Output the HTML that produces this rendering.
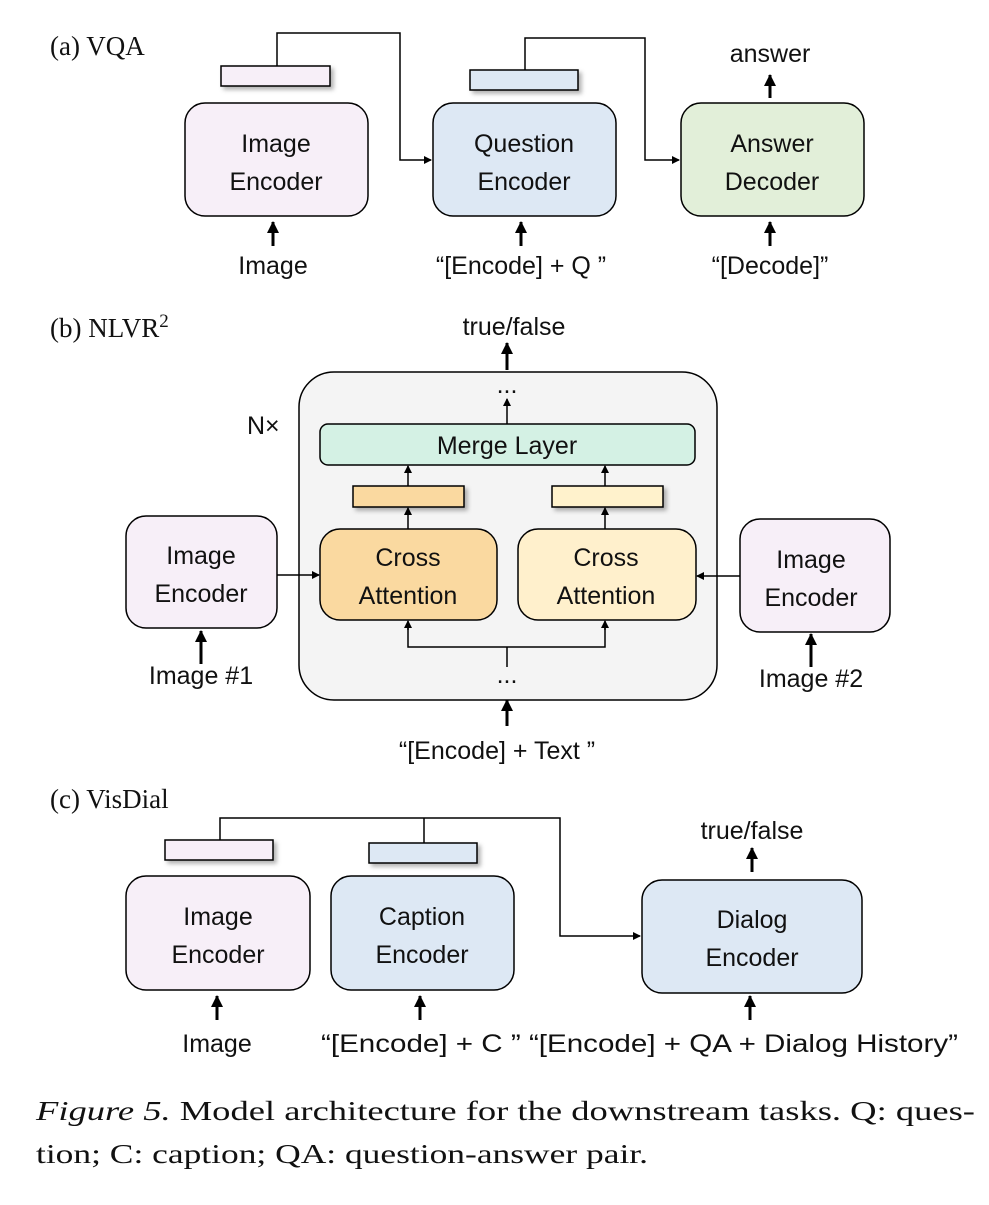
<!DOCTYPE html>
<html><head><meta charset="utf-8"><style>
html,body{margin:0;padding:0;background:#fff;}
svg{display:block;}
.s{font-family:"Liberation Sans",sans-serif;font-size:25px;fill:#111;}
.r{font-family:"Liberation Serif",serif;font-size:27px;fill:#111;}
</style></head><body>
<svg width="989" height="1205" viewBox="0 0 989 1205" xmlns="http://www.w3.org/2000/svg">
<defs>
<marker id="a" markerWidth="8" markerHeight="8" refX="7" refY="4" orient="auto" markerUnits="userSpaceOnUse"><path d="M0,0 L8,4 L0,8 Z" fill="#000"/></marker>
<marker id="b" markerWidth="12" markerHeight="12" refX="11" refY="6" orient="auto" markerUnits="userSpaceOnUse"><path d="M0,0 L12,6 L0,12 Z" fill="#000"/></marker>
<filter id="sh" x="-10%" y="-30%" width="130%" height="180%"><feDropShadow dx="3" dy="3" stdDeviation="2" flood-color="#000" flood-opacity="0.3"/></filter>
</defs>
<g stroke="#000" stroke-width="1.5" fill="none">
<polyline points="277,66 277,33 400,33 400,160 431,160" marker-end="url(#a)"/>
<polyline points="525,70 525,38 645,38 645,160 679,160" marker-end="url(#a)"/>
<rect x="221" y="66" width="109" height="20" fill="#f7eff8" filter="url(#sh)"/>
<rect x="470" y="70" width="108" height="20" fill="#dde8f4" filter="url(#sh)"/>
<rect x="185" y="103" width="183" height="113" rx="20" fill="#f7eff8"/>
<rect x="433" y="103" width="183" height="113" rx="20" fill="#dde8f4"/>
<rect x="681" y="103" width="183" height="113" rx="20" fill="#e2efd9"/>
<g stroke-width="3">
<line x1="273" y1="246" x2="273" y2="222" marker-end="url(#b)"/>
<line x1="521" y1="246" x2="521" y2="222" marker-end="url(#b)"/>
<line x1="770" y1="246" x2="770" y2="222" marker-end="url(#b)"/>
<line x1="770" y1="98" x2="770" y2="75" marker-end="url(#b)"/>
</g>
<g stroke-width="3">
<line x1="507" y1="370" x2="507" y2="343" marker-end="url(#b)"/>
<line x1="507" y1="726" x2="507" y2="700" marker-end="url(#b)"/>
<line x1="201" y1="664" x2="201" y2="631" marker-end="url(#b)"/>
<line x1="811" y1="667" x2="811" y2="634" marker-end="url(#b)"/>
</g>
<rect x="299" y="372" width="418" height="328" rx="35" fill="#f4f4f4"/>
<line x1="507" y1="424" x2="507" y2="399" marker-end="url(#a)"/>
<rect x="320" y="424" width="375" height="41" rx="8" fill="#d4f1e4"/>
<line x1="408" y1="486" x2="408" y2="466" marker-end="url(#a)"/>
<line x1="605" y1="486" x2="605" y2="466" marker-end="url(#a)"/>
<rect x="353" y="486" width="111" height="21" fill="#fad9a0" filter="url(#sh)"/>
<rect x="552" y="486" width="111" height="21" fill="#fff2cc" filter="url(#sh)"/>
<line x1="408" y1="529" x2="408" y2="508" marker-end="url(#a)"/>
<line x1="605" y1="529" x2="605" y2="508" marker-end="url(#a)"/>
<rect x="320" y="529" width="177" height="91" rx="20" fill="#fad9a0"/>
<rect x="518" y="529" width="178" height="91" rx="20" fill="#fff0cc"/>
<line x1="507" y1="667" x2="507" y2="647"/>
<polyline points="408,622 408,647 605,647 605,622"/>
<line x1="408" y1="630" x2="408" y2="621" marker-end="url(#a)"/>
<line x1="605" y1="630" x2="605" y2="621" marker-end="url(#a)"/>
<rect x="126" y="516" width="151" height="112" rx="20" fill="#f7eff8"/>
<rect x="740" y="519" width="150" height="113" rx="20" fill="#f7eff8"/>
<line x1="277" y1="575" x2="319" y2="575" marker-end="url(#a)"/>
<line x1="740" y1="576" x2="697" y2="576" marker-end="url(#a)"/>
<polyline points="220,840 220,818 560,818 560,936 640,936" marker-end="url(#a)"/>
<line x1="424" y1="818" x2="424" y2="843"/>
<rect x="165" y="840" width="108" height="20" fill="#f7eff8" filter="url(#sh)"/>
<rect x="369" y="843" width="108" height="20" fill="#dde8f4" filter="url(#sh)"/>
<rect x="126" y="876" width="184" height="114" rx="20" fill="#f7eff8"/>
<rect x="331" y="876" width="183" height="114" rx="20" fill="#dde8f4"/>
<rect x="642" y="880" width="220" height="113" rx="20" fill="#dde8f4"/>
<g stroke-width="3">
<line x1="217" y1="1020" x2="217" y2="996" marker-end="url(#b)"/>
<line x1="420" y1="1020" x2="420" y2="996" marker-end="url(#b)"/>
<line x1="750" y1="1020" x2="750" y2="996" marker-end="url(#b)"/>
<line x1="752" y1="872" x2="752" y2="848" marker-end="url(#b)"/>
</g>
</g>
<g class="s" text-anchor="middle">
<text x="276" y="152">Image</text><text x="276" y="190">Encoder</text>
<text x="524" y="152">Question</text><text x="524" y="190">Encoder</text>
<text x="772" y="152">Answer</text><text x="772" y="190">Decoder</text>
<text x="770" y="62">answer</text>
<text x="273" y="274">Image</text>
<text x="521" y="274">“[Encode] + Q ”</text>
<text x="770" y="274">“[Decode]”</text>
<text x="514" y="335">true/false</text>
<text x="507" y="393">...</text>
<text x="507" y="454">Merge Layer</text>
<text x="408" y="566">Cross</text><text x="408" y="604">Attention</text>
<text x="606" y="566">Cross</text><text x="606" y="604">Attention</text>
<text x="201" y="564">Image</text><text x="201" y="602">Encoder</text>
<text x="811" y="568">Image</text><text x="811" y="606">Encoder</text>
<text x="507" y="683">...</text>
<text x="201" y="684">Image #1</text>
<text x="811" y="687">Image #2</text>
<text x="497" y="759">“[Encode] + Text ”</text>
<text x="752" y="839">true/false</text>
<text x="218" y="925">Image</text><text x="218" y="963">Encoder</text>
<text x="422" y="925">Caption</text><text x="422" y="963">Encoder</text>
<text x="752" y="928">Dialog</text><text x="752" y="966">Encoder</text>
<text x="217" y="1052">Image</text>
</g>
<text class="s" x="321" y="1052" textLength="637" lengthAdjust="spacingAndGlyphs">“[Encode] + C ” “[Encode] + QA + Dialog History”</text>
<text class="s" x="247" y="434">N×</text>
<text class="r" x="50" y="55">(a) VQA</text>
<text class="r" x="50" y="337">(b) NLVR<tspan font-size="19" dy="-10">2</tspan></text>
<text class="r" x="50" y="808">(c) VisDial</text>
<text class="r" x="36" y="1120" font-size="32" textLength="939" lengthAdjust="spacingAndGlyphs"><tspan font-style="italic">Figure 5.</tspan> Model architecture for the downstream tasks. Q: ques-</text>
<text class="r" x="36" y="1163" font-size="32" textLength="612" lengthAdjust="spacingAndGlyphs">tion; C: caption; QA: question-answer pair.</text>
</svg>
</body></html>
